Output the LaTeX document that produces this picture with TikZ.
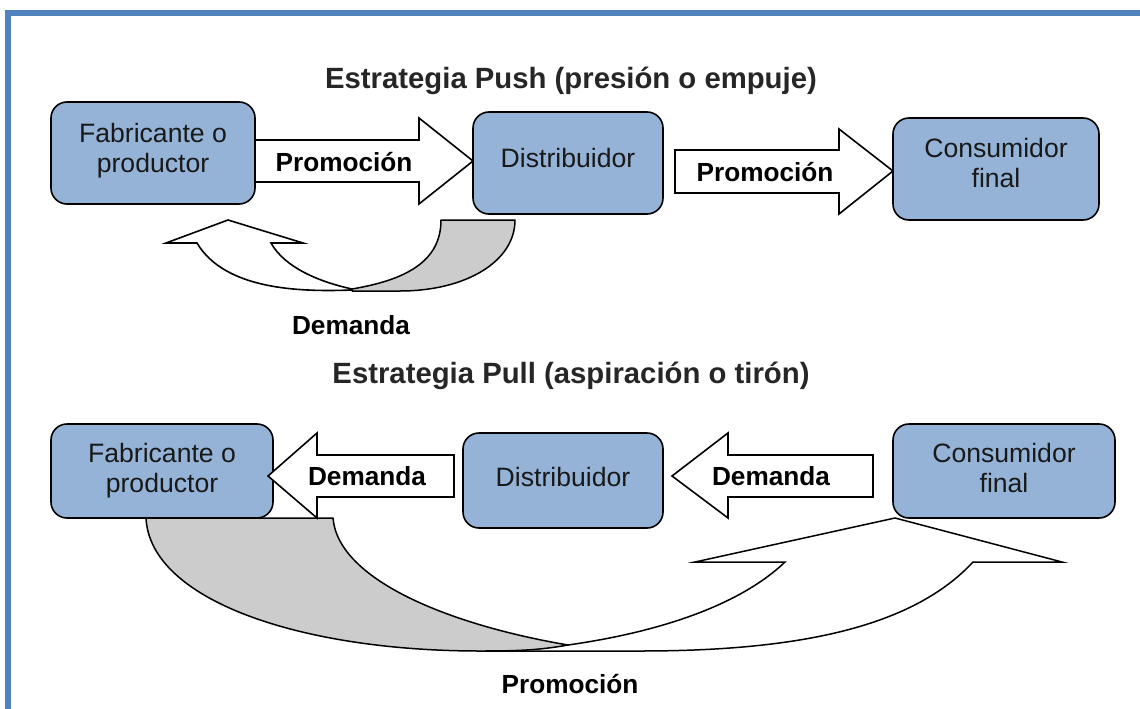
\documentclass[tikz,border=0pt]{standalone}
\usepackage{fontspec}
\setmainfont{Liberation Sans}
\definecolor{bandblue}{HTML}{4F81BD}
\definecolor{boxblue}{HTML}{95B3D7}
\definecolor{curvegrey}{HTML}{CCCCCC}
\definecolor{titlegrey}{HTML}{262626}
\newcommand{\twolines}[3]{\begin{tabular}{@{}c@{}}#2\\#3\\[#1]\end{tabular}}
\newcommand{\oneline}[2]{\begin{tabular}{@{}c@{}}#2\\[#1]\end{tabular}}
\tikzset{
  boxnode/.style={draw=black,fill=boxblue,line width=1.6pt,rounded corners=16pt,inner sep=0pt,
    font=\fontsize{26.6}{30}\selectfont,text=black!90,align=center},
  blockarrow/.style={draw=black,fill=white,line width=1.6pt,line join=miter,miter limit=20},
  greyband/.style={draw=black,fill=curvegrey,line width=1.5pt,line join=round},
  bandpart/.style={fill=bandblue,draw=none},
  boldlabel/.style={font=\fontsize{26.2}{30}\selectfont\bfseries,text=black,inner sep=0pt},
  titlelabel/.style={font=\fontsize{29.3}{33}\selectfont\bfseries,text=titlegrey,inner sep=0pt},
}
\begin{document}
\begin{tikzpicture}[x=1pt,y=-1pt]
\useasboundingbox (0,0) rectangle (1140,709);
\fill[white] (0,0) rectangle (1140,709);
% frame
\path[bandpart] (5,10) rectangle (1140,16);
\path[bandpart] (5,10) rectangle (11,709);
% push curved arrow
\path[blockarrow] (352,290) .. controls (300,292) and (225,290) .. (197,243) -- (166,243) -- (228,220) -- (303,243) -- (271,243) .. controls (285,268) and (320,282) .. (352,289) -- cycle;
\path[greyband] (441,220) -- (515,220) .. controls (515,262) and (465,291) .. (400,291) -- (352,291) -- (352,289) .. controls (405,280) and (441,262) .. (441,220) -- cycle;
% pull curved arrow
\path[blockarrow,line width=1.5pt] (480,651) -- (640,651) .. controls (790,651) and (910,630) .. (973,562) -- (1062,562) -- (895,518) -- (695,562) -- (785,562) .. controls (740,605) and (660,632) .. (568,645) -- cycle;
\path[greyband] (146,518) -- (333,518) .. controls (338,580) and (450,625) .. (568,645) .. controls (540,650) and (520,651) .. (480,651) .. controls (300,651) and (150,600) .. (146,518) -- cycle;
% block arrows behind boxes
\path[blockarrow] (255,140) -- (419,140) -- (419,118) -- (473,161) -- (419,204) -- (419,182) -- (255,182);
\path[blockarrow] (675,150) -- (839,150) -- (839,129) -- (893,171) -- (839,214) -- (839,193) -- (675,193) -- cycle;
\path[blockarrow] (873,455) -- (728,455) -- (728,433) -- (672,476) -- (728,518) -- (728,497) -- (873,497) -- cycle;
% boxes
\node[boxnode,minimum width=204pt,minimum height=102pt] (pushmaker) at (153,153) {\twolines{3pt}{Fabricante o}{productor}};
\node[boxnode,minimum width=190pt,minimum height=102pt] (pushdist) at (568,163) {\oneline{4pt}{Distribuidor}};
\node[boxnode,minimum width=206pt,minimum height=102pt] (pushcons) at (996,169) {\twolines{6pt}{Consumidor}{final}};
\node[boxnode,minimum width=222pt,minimum height=94pt] (pullmaker) at (162,471) {\twolines{0pt}{Fabricante o}{productor}};
\node[boxnode,minimum width=200pt,minimum height=95pt] (pulldist) at (563,480.5) {\oneline{0pt}{Distribuidor}};
\node[boxnode,minimum width=222pt,minimum height=94pt] (pullcons) at (1004,471) {\twolines{0pt}{Consumidor}{final}};
% block arrow over the box
\path[blockarrow] (454,455) -- (317,455) -- (317,433) -- (268,476) -- (317,518) -- (317,497) -- (454,497) -- cycle;
% labels
\node[titlelabel] (pushtitle) at (571,81) {Estrategia Push (presión o empuje)};
\node[titlelabel] (pulltitle) at (571,376) {Estrategia Pull (aspiración o tirón)};
\node[boldlabel] (promoa) at (344,162) {Promoción};
\node[boldlabel] (promob) at (765,172) {Promoción};
\node[boldlabel] (demandtop) at (351,325) {Demanda};
\node[boldlabel] (demanda) at (367,476) {Demanda};
\node[boldlabel] (demandb) at (771,476) {Demanda};
\node[boldlabel] (promoc) at (570,684) {Promoción};
\end{tikzpicture}
\end{document}
